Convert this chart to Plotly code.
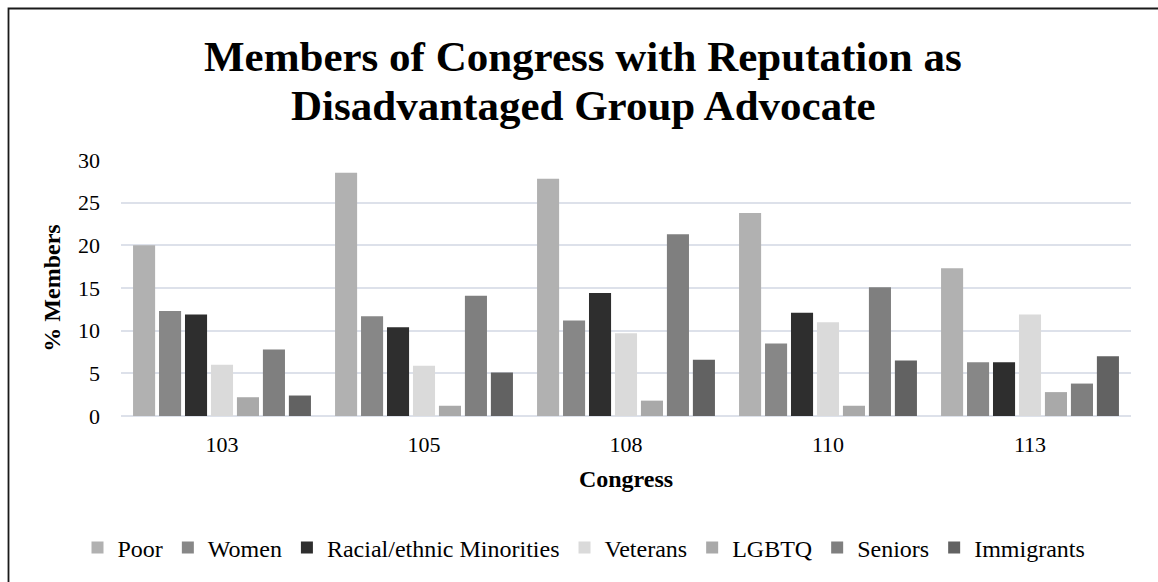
import plotly.graph_objects as go

# Congress sessions and share of members (%) known as advocates for each group
congresses = ["103", "105", "108", "110", "113"]
poor = [20.0, 28.5, 27.8, 23.8, 17.3]
women = [12.3, 11.7, 11.2, 8.5, 6.3]
minorities = [11.9, 10.4, 14.4, 12.1, 6.3]
veterans = [6.0, 5.9, 9.7, 11.0, 11.9]
lgbtq = [2.2, 1.2, 1.8, 1.2, 2.8]
seniors = [7.8, 14.1, 21.3, 15.1, 3.8]
immigrants = [2.4, 5.1, 6.6, 6.5, 7.0]

series = [
    ("Poor", poor, "#b1b1b1"),
    ("Women", women, "#878787"),
    ("Racial/ethnic Minorities", minorities, "#2e2e2e"),
    ("Veterans", veterans, "#dadada"),
    ("LGBTQ", lgbtq, "#a9a9a9"),
    ("Seniors", seniors, "#7f7f7f"),
    ("Immigrants", immigrants, "#626262"),
]

W, H = 1158, 582
ML, MR, MT, MB = 121, 27, 160, 166
PW, PH = W - ML - MR, H - MT - MB
FONT = "Times New Roman, Liberation Serif, serif"


def px_x(x):
    return (x - ML) / PW


def px_y(y):
    return (H - MB - y) / PH


fig = go.Figure()
for name, vals, color in series:
    fig.add_trace(go.Bar(
        x=congresses, y=vals, name=name,
        marker=dict(color=color, line=dict(width=0)),
    ))

grid = "#dde1ea"
fig.update_layout(
    width=W, height=H,
    margin=dict(l=ML, r=MR, t=MT, b=MB),
    paper_bgcolor="white", plot_bgcolor="white",
    barmode="group", bargap=0.10, bargroupgap=0.15,
    font=dict(family=FONT, color="#000000", size=22),
    showlegend=True,
    legend=dict(
        orientation="h", x=px_x(584), xanchor="center",
        y=px_y(548), yanchor="middle",
        font=dict(family=FONT, size=24, color="#000000"),
        itemclick=False, itemdoubleclick=False,
    ),
    xaxis=dict(
        type="category", showgrid=False, ticks="",
        showline=False, zeroline=False,
        tickfont=dict(family=FONT, size=22),
        ticklabelstandoff=13,
        title=dict(text="<b>Congress</b>", font=dict(family=FONT, size=24), standoff=14),
    ),
    yaxis=dict(
        range=[0, 30], dtick=5, tick0=0,
        showgrid=True, gridcolor=grid, gridwidth=1.5,
        zeroline=True, zerolinecolor=grid, zerolinewidth=1.5,
        showline=False, ticks="",
        tickfont=dict(family=FONT, size=22),
        ticklabelstandoff=20,
        title=dict(text="<b>% Members</b>", font=dict(family=FONT, size=24), standoff=10),
    ),
    annotations=[
        dict(text="<b>Members of Congress with Reputation as</b>",
             xref="paper", yref="paper", x=px_x(583), y=px_y(56),
             xanchor="center", yanchor="middle", showarrow=False,
             font=dict(family=FONT, size=43, color="#000000")),
        dict(text="<b>Disadvantaged Group Advocate</b>",
             xref="paper", yref="paper", x=px_x(583), y=px_y(105),
             xanchor="center", yanchor="middle", showarrow=False,
             font=dict(family=FONT, size=43, color="#000000")),
    ],
    shapes=[
        dict(type="rect", xref="paper", yref="paper",
             x0=px_x(8.5), x1=px_x(W + 20), y0=px_y(H + 20), y1=px_y(8.5),
             line=dict(color="#1a1a1a", width=1.8), fillcolor="rgba(0,0,0,0)",
             layer="above"),
    ],
)

fig.write_html("out.html")
